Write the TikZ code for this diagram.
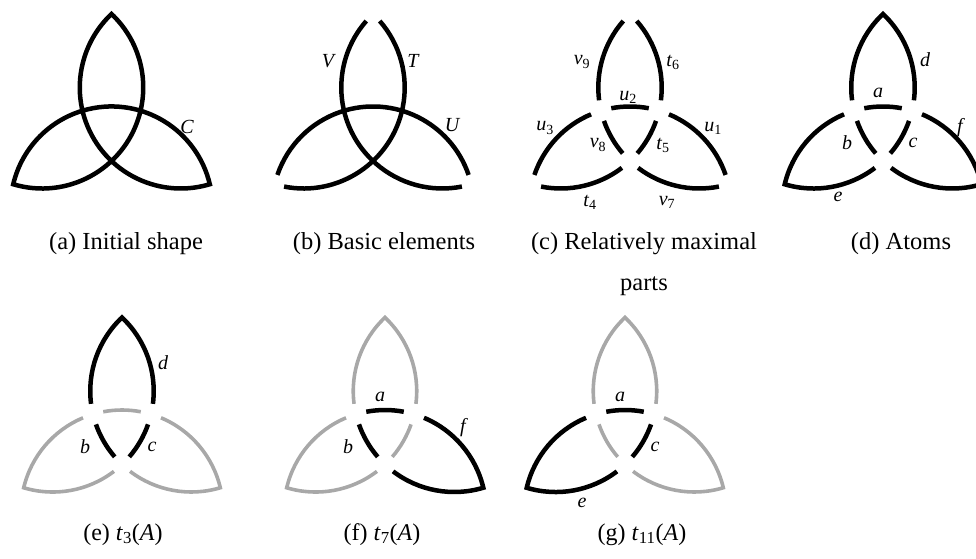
\documentclass[tikz,border=0pt]{standalone}
\usepackage{fontspec}
\setmainfont{Liberation Serif}
\usepackage{tikz}

% one piece of a knot circle: #1 style, #2 circle (0 U, 1 V, 2 T), #3/#4 from/to (degrees along the circle's arc)
\newcommand{\knotarc}[4]{%
  \pgfmathsetmacro{\arcbeg}{13.3+120*#2+#3}%
  \pgfmathsetmacro{\arcend}{13.3+120*#2+#4}%
  \draw[#1] ([shift={(270+120*#2:80)}]\arcbeg:101) arc[start angle=\arcbeg, end angle=\arcend, radius=101];}
% a lobe made of the end of circle #2 and the start of circle #3
\newcommand{\knotlobe}[3]{%
  \pgfmathsetmacro{\arcbeg}{13.3+120*#2+99.4}%
  \pgfmathsetmacro{\arcend}{13.3+120*#3}%
  \draw[#1] ([shift={(270+120*#2:80)}]\arcbeg:101) arc[start angle=\arcbeg, delta angle=54, radius=101]
    arc[start angle=\arcend, delta angle=54, radius=101];}
% italic letter with an upright index
\newcommand{\idx}[2]{\textit{#1}\textsubscript{\textup{#2}}}

\begin{document}
\begin{tikzpicture}[x=1pt, y=1pt,
    inkarc/.style={line width=4.5pt, draw=black},
    dimarc/.style={line width=3.6pt, draw=arcgrey},
    lbl/.style={font=\fontsize{20}{21}\selectfont\itshape, inner sep=0pt},
    captext/.style={anchor=base, font=\fontsize{24.5}{41}\selectfont, inner sep=0pt},
    subcaptext/.style={anchor=base, font=\fontsize{24}{26}\selectfont, inner sep=0pt}]
  \definecolor{arcgrey}{HTML}{A8A8A8}

  \useasboundingbox (0,0) rectangle (976,558);
  \clip (0,0) rectangle (976,558);

  % (a) initial shape
  \begin{scope}[shift={(111.5,430.5)}]
    \draw[inkarc] ([shift={(30:80)}]163.3:101) arc[start angle=163.3, delta angle=123.4, radius=101]
      arc[start angle=13.3, delta angle=153.4, radius=101]
      arc[start angle=253.3, delta angle=153.4, radius=101]
      arc[start angle=133.3, delta angle=31, radius=101];
    \node[lbl] (labC) at (75.5,0.5) {C};
  \end{scope}

  % (b) basic elements
  \begin{scope}[shift={(373,430.5)}]
    \foreach \j in {0,1,2} {\knotarc{inkarc}{\j}{5.5}{147.9}}
    \node[lbl] (labV) at (-45,66.5) {V};
    \node[lbl] (labT) at (40,66.5) {T};
    \node[lbl] (labU) at (79,2.5) {U};
  \end{scope}

  % (c) relatively maximal parts
  \begin{scope}[shift={(630,430.5)}]
    \foreach \j in {0,1,2} {
      \knotarc{inkarc}{\j}{5.5}{54}
      \knotarc{inkarc}{\j}{66}{87.4}
      \knotarc{inkarc}{\j}{99.4}{147.9}
    }
    \node[lbl] (labv9) at (-48,65.5) {\idx{v}{9}};
    \node[lbl] (labt6) at (43,65.5) {\idx{t}{6}};
    \node[lbl] (labu2) at (-2,30.5) {\idx{u}{2}};
    \node[lbl] (labu3) at (-85,-0.5) {\idx{u}{3}};
    \node[lbl] (labu1) at (83,-0.5) {\idx{u}{1}};
    \node[lbl] (labv8) at (-32,-17.5) {\idx{v}{8}};
    \node[lbl] (labt5) at (33,-17.5) {\idx{t}{5}};
    \node[lbl] (labt4) at (-40,-74.5) {\idx{t}{4}};
    \node[lbl] (labv7) at (37,-74.5) {\idx{v}{7}};
  \end{scope}

  % (d) atoms
  \begin{scope}[shift={(883,430.5)}]
    \foreach \j in {0,1,2} {\knotarc{inkarc}{\j}{66}{87.4}}
    \knotlobe{inkarc}{2}{1}
    \knotlobe{inkarc}{0}{2}
    \knotlobe{inkarc}{1}{0}
    \node[lbl] (dlabd) at (42,67.5) {d};
    \node[lbl] (dlaba) at (-5,34.5) {a};
    \node[lbl] (dlabb) at (-36,-15.5) {b};
    \node[lbl] (dlabc) at (30,-15.5) {c};
    \node[lbl] (dlabf) at (77,-0.5) {f};
    \node[lbl] (dlabe) at (-45,-69.5) {e};
  \end{scope}

  % (e) t3(A)
  \begin{scope}[shift={(122,127)}]
    \knotarc{dimarc}{0}{66}{87.4}
    \knotlobe{dimarc}{0}{2}
    \knotlobe{dimarc}{1}{0}
    \knotarc{inkarc}{1}{66}{87.4}
    \knotarc{inkarc}{2}{66}{87.4}
    \knotlobe{inkarc}{2}{1}
    \node[lbl] (elabd) at (41,68) {d};
    \node[lbl] (elabb) at (-37,-16) {b};
    \node[lbl] (elabc) at (30,-16) {c};
  \end{scope}

  % (f) t7(A)
  \begin{scope}[shift={(385,127)}]
    \knotarc{dimarc}{2}{66}{87.4}
    \knotlobe{dimarc}{2}{1}
    \knotlobe{dimarc}{0}{2}
    \knotarc{inkarc}{0}{66}{87.4}
    \knotarc{inkarc}{1}{66}{87.4}
    \knotlobe{inkarc}{1}{0}
    \node[lbl] (flaba) at (-5,34) {a};
    \node[lbl] (flabb) at (-37,-16) {b};
    \node[lbl] (flabf) at (78,3) {f};
  \end{scope}

  % (g) t11(A)
  \begin{scope}[shift={(625,127)}]
    \knotarc{dimarc}{1}{66}{87.4}
    \knotlobe{dimarc}{2}{1}
    \knotlobe{dimarc}{1}{0}
    \knotarc{inkarc}{0}{66}{87.4}
    \knotarc{inkarc}{2}{66}{87.4}
    \knotlobe{inkarc}{0}{2}
    \node[lbl] (glaba) at (-5,34) {a};
    \node[lbl] (glabc) at (30,-16) {c};
    \node[lbl] (glabe) at (-43,-72) {e};
  \end{scope}

  \node[captext] (capA) at (126,309) {(a) Initial shape};
  \node[captext] (capB) at (384,309) {(b) Basic elements};
  \node[captext, align=center] (capC) at (644,268) {(c) Relatively maximal\\parts};
  \node[captext] (capD) at (901,309) {(d) Atoms};

  \node[subcaptext] (capE) at (123,18) {(e) \idx{t}{3}(\textit{A})};
  \node[subcaptext] (capF) at (382,18) {(f) \idx{t}{7}(\textit{A})};
  \node[subcaptext] (capG) at (642,18) {(g) \idx{t}{11}(\textit{A})};
\end{tikzpicture}
\end{document}
